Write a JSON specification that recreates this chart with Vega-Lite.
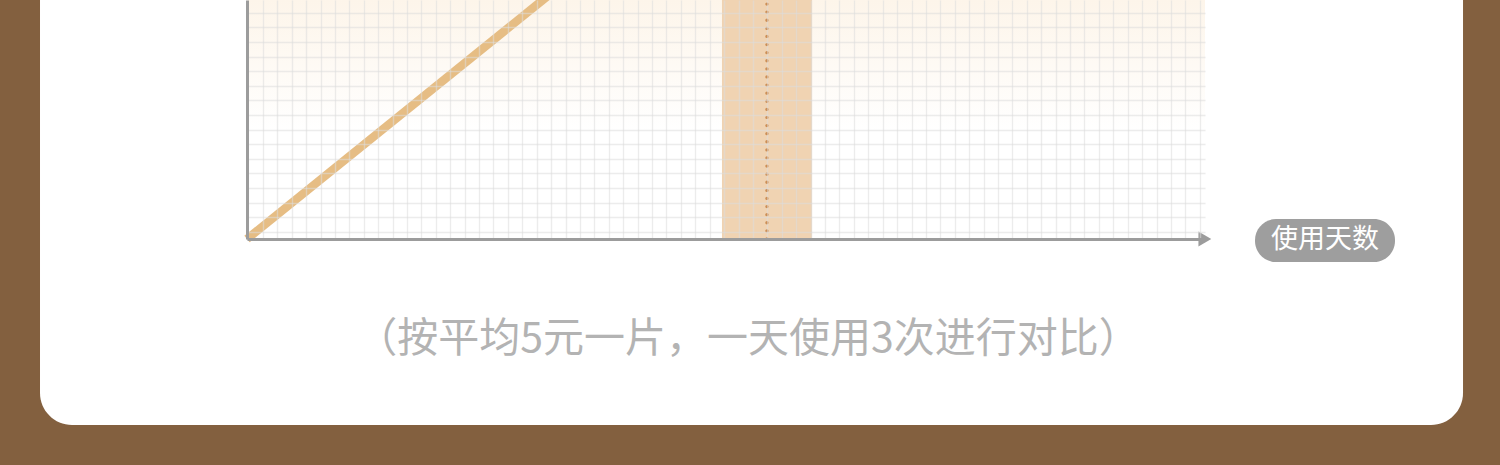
{
  "$schema": "https://vega.github.io/schema/vega-lite/v6.json",
  "width": 958,
  "height": 239,
  "autosize": {"type": "none"},
  "padding": {"left": 247, "top": 0, "right": 295, "bottom": 226},
  "background": "#83603F",
  "config": {
    "view": {"stroke": null},
    "axis": {
      "labels": false,
      "ticks": false,
      "domainColor": "#9C9C9C",
      "domainWidth": 3,
      "gridColor": "#DCDCDC",
      "gridOpacity": 0.55,
      "gridWidth": 1.4
    }
  },
  "encoding": {
    "x": {
      "field": "x",
      "type": "quantitative",
      "title": null,
      "scale": {"domain": [0, 66.46], "nice": false, "zero": false},
      "axis": {
        "zindex": 1,
        "grid": true,
        "values": [1.1, 2.1, 3.1, 4.1, 5.1, 6.1, 7.1, 8.1, 9.1, 10.1, 11.1, 12.1, 13.1, 14.1, 15.1, 16.1, 17.1, 18.1, 19.1, 20.1, 21.1, 22.1, 23.1, 24.1, 25.1, 26.1, 27.1, 28.1, 29.1, 30.1, 31.1, 32.1, 33.1, 34.1, 35.1, 36.1, 37.1, 38.1, 39.1, 40.1, 41.1, 42.1, 43.1, 44.1, 45.1, 46.1, 47.1, 48.1, 49.1, 50.1, 51.1, 52.1, 53.1, 54.1, 55.1, 56.1, 57.1, 58.1, 59.1, 60.1, 61.1, 62.1, 63.1, 64.1, 65.1, 66.1]
      }
    },
    "y": {
      "field": "y",
      "type": "quantitative",
      "title": null,
      "scale": {"domain": [0, 16.37], "nice": false, "zero": false},
      "axis": {
        "zindex": 1,
        "grid": true,
        "values": [0.5, 1.5, 2.5, 3.5, 4.5, 5.5, 6.5, 7.5, 8.5, 9.5, 10.5, 11.5, 12.5, 13.5, 14.5, 15.5]
      }
    }
  },
  "layer": [
    {
      "data": {"values": [{"x": -14.36, "x2": 84.36, "y": -12.74, "y2": 25}]},
      "mark": {"type": "rect", "fill": "#FFFFFF", "cornerRadius": 32},
      "encoding": {"x2": {"field": "x2"}, "y2": {"field": "y2"}}
    },
    {
      "data": {"values": [{"x": 0, "x2": 66.46, "y": 0, "y2": 16.37}]},
      "mark": {
        "type": "rect",
        "fill": {
          "gradient": "linear",
          "x1": 0, "y1": 0, "x2": 0, "y2": 1,
          "stops": [
            {"offset": 0, "color": "#FDF5EA"},
            {"offset": 0.55, "color": "#FFFFFF"},
            {"offset": 1, "color": "#FFFFFF"}
          ]
        }
      },
      "encoding": {"x2": {"field": "x2"}, "y2": {"field": "y2"}}
    },
    {
      "data": {"values": [{"x": 32.95, "x2": 39.2, "y": 0, "y2": 16.37}]},
      "mark": {"type": "rect", "fill": "#F0D3B2"},
      "encoding": {"x2": {"field": "x2"}, "y2": {"field": "y2"}}
    },
    {
      "data": {"values": [{"x": 36.07, "y": 0, "y2": 16.37}]},
      "mark": {"type": "rule", "stroke": "#C98445", "strokeWidth": 3.2, "strokeCap": "round", "strokeDash": [0.1, 8]},
      "encoding": {"y2": {"field": "y2"}}
    },
    {
      "data": {"values": [{"x": 0, "y": 0}, {"x": 22, "y": 17.55}]},
      "mark": {"type": "line", "stroke": "#E6BD84", "strokeWidth": 8.5, "strokeCap": "butt", "clip": false}
    },
    {
      "data": {"values": [{"x": 66.45, "y": 0}]},
      "mark": {"type": "point", "shape": "triangle-right", "size": 220, "filled": true, "fill": "#9C9C9C", "opacity": 1}
    },
    {
      "data": {"values": [{"x": 69.93, "x2": 79.64, "y": 1.37, "y2": -1.58}]},
      "mark": {"type": "rect", "fill": "#9E9E9E", "cornerRadius": 21},
      "encoding": {"x2": {"field": "x2"}, "y2": {"field": "y2"}}
    },
    {
      "data": {"values": [{"x": 74.78, "y": -0.05, "label": "使用天数"}]},
      "mark": {"type": "text", "font": "Noto Sans CJK SC", "fontSize": 27, "color": "#FFFFFF", "align": "center", "baseline": "middle"},
      "encoding": {"text": {"field": "label"}}
    },
    {
      "data": {"values": [{"x": 34.76, "y": -6.92, "label": "（按平均5元一片，一天使用3次进行对比）"}]},
      "mark": {"type": "text", "font": "Noto Sans CJK SC", "fontSize": 41, "color": "#B3B3B3", "align": "center", "baseline": "middle"},
      "encoding": {"text": {"field": "label"}}
    }
  ]
}
